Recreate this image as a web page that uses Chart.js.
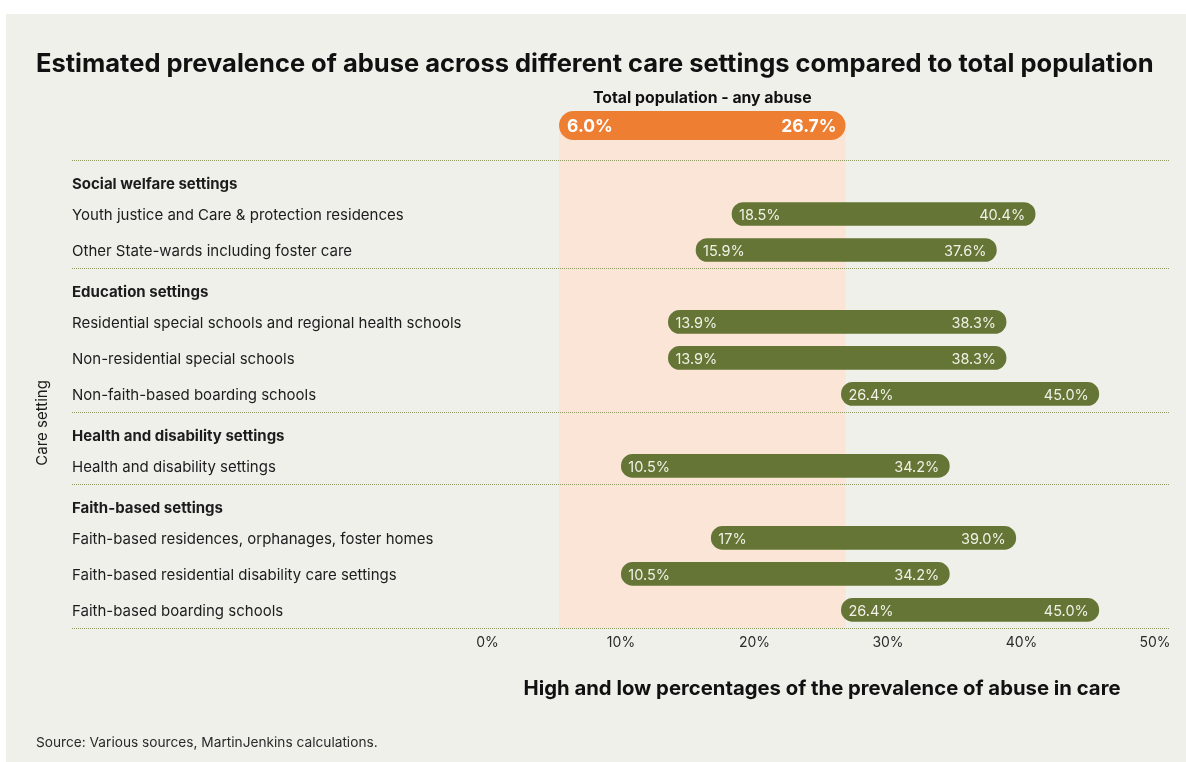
<!DOCTYPE html>
<html><head><meta charset="utf-8">
<script src="https://cdn.jsdelivr.net/npm/chart.js@4.4.0/dist/chart.umd.min.js"></script>
<style>
html,body{margin:0;padding:0;background:#fff;width:1186px;height:762px;overflow:hidden;}
#panel{position:absolute;left:6px;top:14px;width:1180px;height:748px;background:#EFF0EA;}
#wrap{position:absolute;left:0;top:0;width:1180px;height:748px;}
#title{position:absolute;left:30px;top:33px;font:700 25.5px Inter,sans-serif;color:#111;white-space:nowrap;letter-spacing:0px;}
#source{position:absolute;left:30px;top:720px;font:400 13.7px Inter,sans-serif;color:#2a2a2a;white-space:nowrap;}
</style></head>
<body>
<div id="panel">
  <div id="wrap"><canvas id="c"></canvas></div>
  <div id="title">Estimated prevalence of abuse across different care settings compared to total population</div>
  <div id="source">Source: Various sources, MartinJenkins calculations.</div>
</div>
<script>
// ---- data ----
const categories = [
  "Social welfare settings",
  "Youth justice and Care & protection residences",
  "Other State-wards including foster care",
  "Education settings",
  "Residential special schools and regional health schools",
  "Non-residential special schools",
  "Non-faith-based boarding schools",
  "Health and disability settings",
  "Health and disability settings",
  "Faith-based settings",
  "Faith-based residences, orphanages, foster homes",
  "Faith-based residential disability care settings",
  "Faith-based boarding schools"
];
const isGroupHeader = [true,false,false,true,false,false,false,true,false,true,false,false,false];
const lowValues  = [null, 18.5, 15.9, null, 13.9, 13.9, 26.4, null, 10.5, null, 17.0, 10.5, 26.4];
const highValues = [null, 40.4, 37.6, null, 38.3, 38.3, 45.0, null, 34.2, null, 39.0, 34.2, 45.0];
const lowLabels  = ["", "18.5%", "15.9%", "", "13.9%", "13.9%", "26.4%", "", "10.5%", "", "17%", "10.5%", "26.4%"];
const highLabels = ["", "40.4%", "37.6%", "", "38.3%", "38.3%", "45.0%", "", "34.2%", "", "39.0%", "34.2%", "45.0%"];
const populationRange = [6.0, 26.7];
const populationLabels = ["6.0%", "26.7%"];
const populationTitle = "Total population - any abuse";
const tickValues = [0, 10, 20, 30, 40, 50];
const yTitle = "Care setting";
const xTitle = "High and low percentages of the prevalence of abuse in care";

// ---- styles ----
const GREEN = '#647535', ORANGE = '#EE7E32', BAND = '#FAE5D7', SEP = '#8E9B63';
const FONT = 'Inter, sans-serif';
const AREA_W = 692, TICK_IN_L = 11.5, TICK_IN_R = 13;
const R = 50 * AREA_W / (AREA_W - TICK_IN_L - TICK_IN_R);
const x2min = -TICK_IN_L * R / AREA_W, x2max = x2min + R;

const ranges = lowValues.map((l, i) => l == null ? null : [l, highValues[i]]);

const decor = {
  id: 'decor',
  beforeDatasetsDraw(chart) {
    const {ctx, chartArea: a, scales: {x, y}} = chart;
    const x0 = x.getPixelForValue(populationRange[0]);
    const x1 = x.getPixelForValue(populationRange[1]);
    const pillTop = a.top - 49, pillH = 29;
    ctx.save();
    ctx.fillStyle = BAND;
    ctx.fillRect(x0, pillTop + pillH / 2, x1 - x0, a.bottom - pillTop - pillH / 2);
    ctx.fillStyle = ORANGE;
    ctx.beginPath();
    ctx.roundRect(x0, pillTop, x1 - x0, pillH, pillH / 2);
    ctx.fill();
    ctx.fillStyle = '#fff';
    ctx.font = '700 17.5px ' + FONT;
    ctx.textBaseline = 'middle';
    ctx.textAlign = 'left';
    ctx.fillText(populationLabels[0], x0 + 8, pillTop + pillH / 2 + 1);
    ctx.textAlign = 'right';
    ctx.fillText(populationLabels[1], x1 - 9, pillTop + pillH / 2 + 1);
    ctx.fillStyle = '#111';
    ctx.font = '700 15.8px ' + FONT;
    ctx.textAlign = 'center';
    ctx.fillText(populationTitle, (x0 + x1) / 2, pillTop - 13);

    // separators
    const step = y.getPixelForValue(1) - y.getPixelForValue(0);
    const lines = [];
    isGroupHeader.forEach((h, i) => { if (h) lines.push(y.getPixelForValue(i) - step / 2); });
    lines.push(y.getPixelForValue(categories.length - 1) + step / 2);
    ctx.strokeStyle = SEP;
    ctx.lineWidth = 1;
    ctx.setLineDash([1, 1]);
    lines.forEach(py => {
      const yy = Math.round(py) + 0.5;
      ctx.beginPath();
      ctx.moveTo(66, yy);
      ctx.lineTo(a.right + 2, yy);
      ctx.stroke();
    });
    ctx.setLineDash([]);

    // y title
    ctx.fillStyle = '#1a1a1a';
    ctx.font = '400 15px ' + FONT;
    ctx.translate(36, (a.top + a.bottom) / 2 + 29);
    ctx.rotate(-Math.PI / 2);
    ctx.textAlign = 'center';
    ctx.textBaseline = 'middle';
    ctx.fillText(yTitle, 0, 0);
    ctx.restore();
  },
  afterDatasetsDraw(chart) {
    const {ctx} = chart;
    const meta = chart.getDatasetMeta(0);
    ctx.save();
    ctx.fillStyle = '#F1F1E6';
    ctx.font = '400 14.5px ' + FONT;
    ctx.textBaseline = 'middle';
    meta.data.forEach((bar, i) => {
      if (ranges[i] == null) return;
      const l = Math.min(bar.x, bar.base), r = Math.max(bar.x, bar.base);
      ctx.textAlign = 'left';
      ctx.fillText(lowLabels[i], l + 7, bar.y + 1.5);
      ctx.textAlign = 'right';
      ctx.fillText(highLabels[i], r - 10, bar.y + 1.5);
    });
    ctx.restore();
  }
};

new Chart(document.getElementById('c'), {
  type: 'bar',
  data: {
    labels: categories,
    datasets: [{
      data: ranges,
      backgroundColor: GREEN,
      borderRadius: 12,
      borderSkipped: false,
      barThickness: 23,
      xAxisID: 'x',
      yAxisID: 'y'
    }]
  },
  options: {
    indexAxis: 'y',
    responsive: true,
    maintainAspectRatio: false,
    devicePixelRatio: 1,
    animation: false,
    layout: {padding: {left: 66, right: 18, top: 146, bottom: 61}},
    plugins: {legend: {display: false}, tooltip: {enabled: false}},
    scales: {
      x: {type: 'linear', min: 0, max: 50, display: false},
      x2: {
        type: 'linear', position: 'bottom', min: x2min, max: x2max,
        grid: {display: false, drawTicks: false},
        border: {display: false},
        afterBuildTicks: s => { s.ticks = tickValues.map(v => ({value: v})); },
        ticks: {callback: v => v + '%', color: '#2a2a2a', font: {family: FONT, size: 14}, padding: 7},
        title: {display: true, text: xTitle, color: '#111', font: {family: FONT, weight: '700', size: 20.3}, padding: {top: 18, bottom: 0}}
      },
      y: {
        type: 'category',
        offset: true,
        grid: {display: false},
        border: {display: false},
        ticks: {
          crossAlign: 'far', autoSkip: false, padding: 0, color: '#1c1c1c', labelOffset: 2,
          callback: function (v, i) { const t = this.getLabelForValue(v); return isGroupHeader[i] ? ['', t] : t; },
          font: ctx => isGroupHeader[ctx.index]
            ? {family: FONT, size: 15, weight: '700', lineHeight: '9px'}
            : {family: FONT, size: 15, weight: '400'}
        },
        afterFit: s => { s.width = 404; }
      }
    }
  },
  plugins: [decor]
});
</script>
</body></html>
